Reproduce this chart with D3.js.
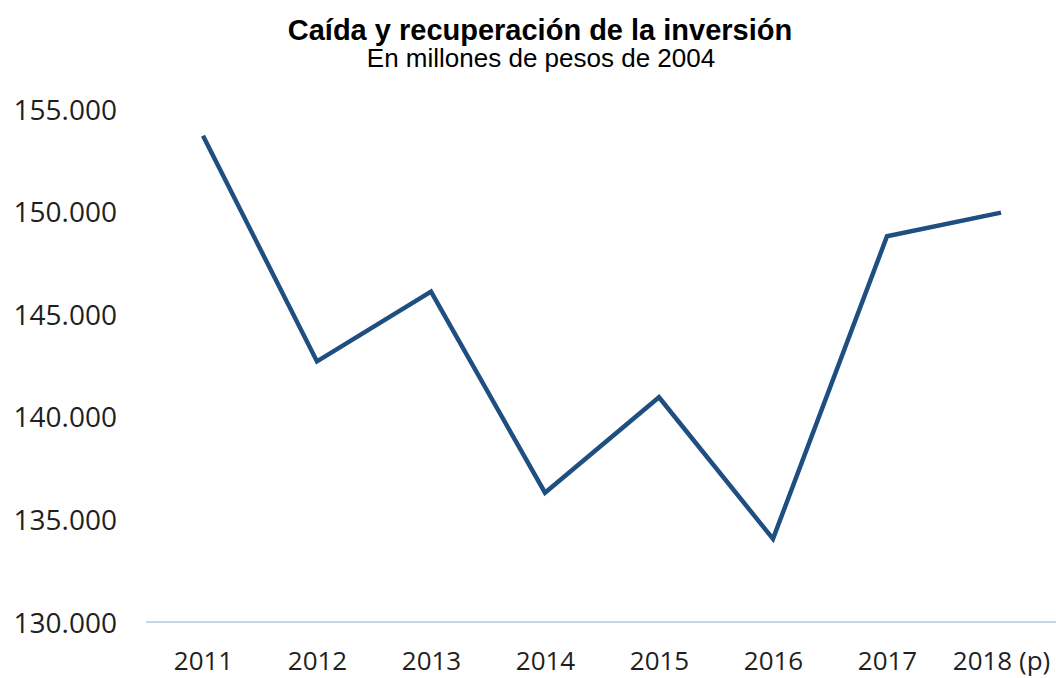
<!DOCTYPE html>
<html><head><meta charset="utf-8">
<script src="https://cdn.jsdelivr.net/npm/d3@7"></script>
<style>body{margin:0;background:#fff}</style>
</head><body>
<svg id="c" width="1056" height="678"></svg>
<script>
const years = ["2011","2012","2013","2014","2015","2016","2017","2018 (p)"];
const values = [153700, 142700, 146100, 136300, 140950, 134050, 148800, 149950];
const yTicks = [130000,135000,140000,145000,150000,155000];
const title = "Caída y recuperación de la inversión";
const subtitle = "En millones de pesos de 2004";

const svg = d3.select("#c");
const x = d3.scalePoint().domain(years).range([203, 1001]);
const y = d3.scaleLinear().domain([130000, 155000]).range([622, 109]);
const fmt = d => d3.format(",")(d).replace(/,/g, ".");

svg.append("text").attr("x", 540).attr("y", 40).attr("text-anchor", "middle")
  .attr("font-family", "Liberation Sans, Arial, sans-serif").attr("font-weight", "bold")
  .attr("font-size", 29).attr("fill", "#000").text(title);
svg.append("text").attr("x", 541).attr("y", 67).attr("text-anchor", "middle")
  .attr("font-family", "Liberation Sans, Arial, sans-serif")
  .attr("font-size", 26).attr("fill", "#000").text(subtitle);

// y axis labels
const yAxis = svg.append("g").attr("transform", "translate(117,0)")
  .call(d3.axisLeft(y).tickValues(yTicks).tickFormat(fmt).tickSize(0).tickPadding(0));
yAxis.select(".domain").remove();
yAxis.selectAll("text").attr("font-family", "Open Sans, sans-serif").attr("font-size", 28)
  .attr("dy", "0.36em").attr("fill", "#1f1f1f");

// x axis
const xAxis = svg.append("g").attr("transform", `translate(0,${y(130000)})`)
  .call(d3.axisBottom(x).tickSize(0));
xAxis.select(".domain").attr("d", "M146,0H1056").attr("stroke", "#c6d6ea").attr("stroke-width", 2);
xAxis.selectAll("text").attr("font-family", "Open Sans, sans-serif").attr("font-size", 26)
  .attr("y", 48).attr("dy", null).attr("fill", "#1f1f1f");

const line = d3.line().x((d, i) => x(years[i])).y(d => y(d));
svg.append("path").datum(values).attr("d", line).attr("fill", "none")
  .attr("stroke", "#1f4e80").attr("stroke-width", 4.5).attr("stroke-linejoin", "miter");
</script>
</body></html>
